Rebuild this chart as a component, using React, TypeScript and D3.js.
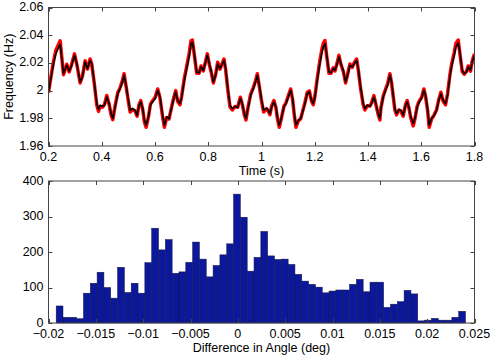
import React, { useEffect, useRef } from "react";
import * as d3 from "d3";

// top panel: measured (black) and reference (red) frequency traces
const time = [
  0.2, 0.21, 0.2188, 0.2275, 0.2438, 0.2563, 0.2688, 0.2776, 0.2851, 0.2976,
  0.3063, 0.3188, 0.3276, 0.3376, 0.3464, 0.3564, 0.3626, 0.3726, 0.3814, 0.3877,
  0.3939, 0.4027, 0.4102, 0.4189, 0.4277, 0.4352, 0.4414, 0.4502, 0.4602, 0.4689,
  0.4777, 0.4839, 0.4914, 0.5002, 0.5065, 0.5152, 0.5252, 0.5327, 0.5402, 0.5465,
  0.554, 0.5602, 0.5665, 0.5752, 0.5827, 0.5902, 0.6001, 0.6102, 0.6189, 0.6277,
  0.6352, 0.6439, 0.6527, 0.6602, 0.669, 0.6777, 0.6852, 0.694, 0.7003, 0.7103,
  0.719, 0.7278, 0.7353, 0.7403, 0.7478, 0.7566, 0.7653, 0.7728, 0.7816, 0.7903,
  0.7966, 0.8041, 0.8104, 0.8191, 0.8279, 0.8354, 0.8441, 0.8504, 0.8592, 0.8654,
  0.8729, 0.8817, 0.8904, 0.9004, 0.9105, 0.9205, 0.928, 0.9355, 0.9417, 0.9505,
  0.9593, 0.9693, 0.978, 0.9843, 0.9918, 1.0005, 1.0081, 1.0193, 1.0256, 1.0318,
  1.0381, 1.0468, 1.0544, 1.0606, 1.0669, 1.0756, 1.0844, 1.0919, 1.1006, 1.1094,
  1.1169, 1.1232, 1.1294, 1.1382, 1.1469, 1.1545, 1.1632, 1.172, 1.1795, 1.1882,
  1.1945, 1.2008, 1.2095, 1.217, 1.2258, 1.232, 1.2383, 1.2445, 1.2533, 1.2608,
  1.2696, 1.2758, 1.2846, 1.2908, 1.2983, 1.3071, 1.3159, 1.3234, 1.3321, 1.3409,
  1.3484, 1.3572, 1.3634, 1.3722, 1.3822, 1.3884, 1.3972, 1.4072, 1.4135, 1.4222,
  1.4297, 1.4385, 1.4447, 1.4485, 1.4573, 1.466, 1.4735, 1.4823, 1.4885, 1.4948,
  1.5011, 1.5073, 1.5161, 1.5236, 1.5323, 1.5411, 1.5473, 1.5549, 1.5611, 1.5699,
  1.5761, 1.5849, 1.5924, 1.6011, 1.6099, 1.6162, 1.6237, 1.6299, 1.6387, 1.6487,
  1.6575, 1.6662, 1.6737, 1.6825, 1.6912, 1.6987, 1.7075, 1.7138, 1.7238, 1.73,
  1.7388, 1.745, 1.7538, 1.7613, 1.7701, 1.7763, 1.7851, 1.7914, 1.8,
];

const freqBlack = [
  1.999, 2.0099, 2.0195, 2.0267, 2.0335, 2.0123, 2.0183, 2.0142, 2.0171, 2.0255,
  2.0195, 2.0063, 2.0099, 2.0207, 2.0159, 2.0219, 2.0195, 2.0051, 1.9906, 1.9863,
  1.9894, 1.9887, 1.9894, 1.9954, 1.9906, 1.9834, 1.9798, 1.9882, 1.9978, 2.0014,
  2.0063, 2.0111, 2.0039, 1.993, 1.9858, 1.987, 1.9858, 1.9822, 1.9894, 1.9918,
  1.987, 1.9786, 1.975, 1.981, 1.9894, 1.9918, 1.9942, 2.0002, 1.9954, 1.9834,
  1.975, 1.981, 1.9798, 1.9858, 1.993, 1.999, 1.993, 1.9906, 1.9954, 2.0075,
  2.0159, 2.0243, 2.0339, 2.0351, 2.0267, 2.0135, 2.0128, 2.0171, 2.0147, 2.0207,
  2.0255, 2.0195, 2.0147, 2.0063, 2.0111, 2.0195, 2.0159, 2.0183, 2.0219, 2.0159,
  2.0026, 1.9894, 1.987, 1.9887, 1.9877, 1.9942, 1.9906, 1.9834, 1.9798, 1.9882,
  1.9966, 2.0014, 2.0063, 2.0111, 2.0039, 1.993, 1.9858, 1.9874, 1.9858, 1.9834,
  1.9882, 1.9918, 1.9882, 1.9798, 1.975, 1.981, 1.9882, 1.9906, 1.9954, 2.0002,
  1.9942, 1.9834, 1.975, 1.9786, 1.9798, 1.9846, 1.9906, 1.9978, 1.999, 1.993,
  1.9906, 1.9954, 2.0075, 2.0171, 2.0267, 2.0315, 2.0339, 2.0267, 2.0135, 2.0128,
  2.0159, 2.0147, 2.0195, 2.0243, 2.0195, 2.0147, 2.0063, 2.0111, 2.0183, 2.0171,
  2.0195, 2.0219, 2.0159, 2.0026, 1.9906, 1.987, 1.9894, 1.9887, 1.9906, 1.9954,
  1.9906, 1.9834, 1.9798, 1.987, 1.9954, 2.0002, 2.0039, 2.0111, 2.0063, 1.9966,
  1.987, 1.9834, 1.9863, 1.9858, 1.9822, 1.9894, 1.9918, 1.987, 1.981, 1.9762,
  1.9798, 1.9882, 1.9918, 1.9942, 2.0002, 1.9966, 1.987, 1.975, 1.9798, 1.9822,
  1.9858, 1.993, 1.9978, 1.993, 1.9906, 1.9966, 2.0099, 2.0171, 2.0255, 2.0315,
  2.0344, 2.0279, 2.0147, 2.0123, 2.0135, 2.0171, 2.0147, 2.0207, 2.0255,
];

const freqRed = [
  1.9985, 2.011, 2.021, 2.029, 2.036, 2.0115, 2.019, 2.0135, 2.0178, 2.0265,
  2.019, 2.0055, 2.0105, 2.0215, 2.0155, 2.0228, 2.019, 2.004, 1.9895, 1.985,
  1.9885, 1.988, 1.99, 1.9965, 1.99, 1.9825, 1.979, 1.989, 1.9985, 2.002,
  2.0072, 2.0122, 2.003, 1.992, 1.9845, 1.9865, 1.9852, 1.9815, 1.99, 1.9928,
  1.9862, 1.9775, 1.9735, 1.9808, 1.99, 1.9925, 1.995, 2.0012, 1.9945, 1.9822,
  1.9735, 1.9805, 1.9795, 1.9862, 1.9938, 2.0, 1.9922, 1.9898, 1.9962, 2.009,
  2.0175, 2.0262, 2.036, 2.0365, 2.0255, 2.0125, 2.0125, 2.0178, 2.0142, 2.0215,
  2.0265, 2.0188, 2.0138, 2.0055, 2.0118, 2.0205, 2.0155, 2.0188, 2.0228, 2.015,
  2.0015, 1.9882, 1.986, 1.9885, 1.988, 1.9952, 1.99, 1.9825, 1.9788, 1.989,
  1.9975, 2.0022, 2.0072, 2.0122, 2.003, 1.992, 1.9845, 1.9868, 1.9852, 1.9826,
  1.989, 1.9928, 1.9875, 1.9788, 1.9735, 1.9808, 1.9888, 1.9912, 1.9962, 2.0012,
  1.9935, 1.9822, 1.9735, 1.9782, 1.9795, 1.985, 1.9914, 1.9988, 1.9998, 1.9922,
  1.9898, 1.9962, 2.009, 2.0188, 2.0288, 2.034, 2.0362, 2.0255, 2.0125, 2.0125,
  2.0165, 2.0142, 2.0205, 2.0255, 2.0188, 2.0138, 2.0055, 2.0118, 2.0192, 2.0168,
  2.0202, 2.0228, 2.015, 2.0015, 1.9894, 1.986, 1.989, 1.9888, 1.9912, 1.9964,
  1.9898, 1.9825, 1.9788, 1.9875, 1.9962, 2.001, 2.0048, 2.0122, 2.0055, 1.9955,
  1.9858, 1.9825, 1.986, 1.9852, 1.9815, 1.9902, 1.9928, 1.9862, 1.98, 1.9745,
  1.9795, 1.989, 1.9925, 1.995, 2.0012, 1.9958, 1.9858, 1.9735, 1.9795, 1.9825,
  1.9862, 1.9938, 1.9988, 1.9922, 1.9898, 1.9975, 2.0112, 2.0188, 2.0275, 2.034,
  2.0365, 2.0268, 2.0138, 2.0118, 2.014, 2.0178, 2.014, 2.0215, 2.0265,
];

const timeTicks = [0.2, 0.4, 0.6, 0.8, 1, 1.2, 1.4, 1.6, 1.8];
const freqTicks = [1.96, 1.98, 2, 2.02, 2.04, 2.06];

// bottom panel: histogram of angle differences (60 bins)
const binLow = -0.01919;
const binHigh = 0.02405;
const counts = [
  48, 16, 16, 12, 84, 112, 143, 100, 70, 157,
  86, 112, 84, 170, 267, 206, 235, 140, 144, 171,
  228, 180, 130, 162, 192, 223, 363, 298, 146, 185,
  258, 189, 179, 180, 165, 137, 118, 109, 101, 85,
  90, 93, 93, 109, 123, 88, 115, 115, 44, 53,
  60, 92, 82, 6, 8, 13, 8, 8, 16, 33,
];
const angleTicks = [-0.02, -0.015, -0.01, -0.005, 0, 0.005, 0.01, 0.015, 0.02, 0.025];
const angleLabels = ["\u22120.02", "\u22120.015", "\u22120.01", "\u22120.005", "0", "0.005", "0.01", "0.015", "0.02", "0.025"];
const countTicks = [0, 100, 200, 300, 400];

const W = 491;
const H = 360;
const FONT = "'Liberation Sans', Arial, sans-serif";
const FS = 12.5;
const AXIS_COLOR = "#444";

// draws the box with inward ticks on all four sides
function drawFrame(g, x, y, xTicks, yTicks, xFmt, yFmt, box) {
  const { l, r, t, b } = box;
  g.append("rect")
    .attr("x", l).attr("y", t)
    .attr("width", r - l).attr("height", b - t)
    .attr("fill", "none")
    .attr("stroke", AXIS_COLOR)
    .attr("stroke-width", 1);

  const tick = 4;
  xTicks.forEach((v) => {
    const px = Math.round(x(v)) + 0.5;
    g.append("line").attr("x1", px).attr("x2", px).attr("y1", b).attr("y2", b - tick).attr("stroke", AXIS_COLOR);
    g.append("line").attr("x1", px).attr("x2", px).attr("y1", t).attr("y2", t + tick).attr("stroke", AXIS_COLOR);
  });
  yTicks.forEach((v) => {
    const py = Math.round(y(v)) + 0.5;
    g.append("line").attr("x1", l).attr("x2", l + tick).attr("y1", py).attr("y2", py).attr("stroke", AXIS_COLOR);
    g.append("line").attr("x1", r).attr("x2", r - tick).attr("y1", py).attr("y2", py).attr("stroke", AXIS_COLOR);
  });

  g.selectAll(".xlab")
    .data(xTicks)
    .enter()
    .append("text")
    .attr("x", (d) => x(d))
    .attr("y", b + 15)
    .attr("text-anchor", "middle")
    .text((d, i) => xFmt(d, i));

  g.selectAll(".ylab")
    .data(yTicks)
    .enter()
    .append("text")
    .attr("x", l - 5)
    .attr("y", (d) => y(d))
    .attr("dy", "0.28em")
    .attr("text-anchor", "end")
    .text((d) => yFmt(d));
}

export default function App() {
  const ref = useRef<SVGSVGElement>(null);

  useEffect(() => {
    const svg = d3.select(ref.current);
    svg.selectAll("*").remove();
    const root = svg.append("g").attr("font-family", FONT).attr("font-size", FS).attr("fill", "#000");

    // ---- top panel
    const topBox = { l: 48.5, r: 474.5, t: 7.5, b: 146 };
    const xT = d3.scaleLinear().domain([0.2, 1.8]).range([topBox.l, topBox.r]);
    const yT = d3.scaleLinear().domain([1.96, 2.06]).range([topBox.b, topBox.t]);

    svg.append("defs").append("clipPath").attr("id", "topClip")
      .append("rect")
      .attr("x", topBox.l).attr("y", topBox.t)
      .attr("width", topBox.r - topBox.l).attr("height", topBox.b - topBox.t);

    const line = d3.line<number>()
      .x((d, i) => xT(time[i]))
      .y((d) => yT(d));

    const traces = root.append("g").attr("clip-path", "url(#topClip)");
    traces.append("path")
      .attr("d", line(freqRed))
      .attr("fill", "none")
      .attr("stroke", "#ff0000")
      .attr("stroke-width", 3.5)
      .attr("stroke-linejoin", "round");
    traces.append("path")
      .attr("d", line(freqBlack))
      .attr("fill", "none")
      .attr("stroke", "#000")
      .attr("stroke-width", 1.6)
      .attr("stroke-linejoin", "round");

    drawFrame(root.append("g"), xT, yT, timeTicks, freqTicks,
      (d) => String(+d.toFixed(2)),
      (d) => String(+d.toFixed(2)),
      topBox);

    root.append("text")
      .attr("x", (topBox.l + topBox.r) / 2)
      .attr("y", 175)
      .attr("text-anchor", "middle")
      .text("Time (s)");

    root.append("text")
      .attr("transform", `translate(13, ${(topBox.t + topBox.b) / 2}) rotate(-90)`)
      .attr("text-anchor", "middle")
      .text("Frequency (Hz)");

    // ---- bottom panel
    const botBox = { l: 48.5, r: 474.5, t: 181, b: 323 };
    const xB = d3.scaleLinear().domain([-0.02, 0.025]).range([botBox.l, botBox.r]);
    const yB = d3.scaleLinear().domain([0, 400]).range([botBox.b, botBox.t]);
    const binW = (binHigh - binLow) / counts.length;

    root.append("g")
      .selectAll("rect")
      .data(counts)
      .enter()
      .append("rect")
      .attr("x", (d, i) => xB(binLow + i * binW))
      .attr("y", (d) => yB(d))
      .attr("width", xB(binLow + binW) - xB(binLow))
      .attr("height", (d) => yB(0) - yB(d))
      .attr("fill", "#0c189c")
      .attr("stroke", "#151540")
      .attr("stroke-width", 0.5);

    drawFrame(root.append("g"), xB, yB, angleTicks, countTicks,
      (d, i) => angleLabels[i],
      (d) => String(d),
      botBox);

    root.append("text")
      .attr("x", (botBox.l + botBox.r) / 2)
      .attr("y", 351.5)
      .attr("text-anchor", "middle")
      .text("Difference in Angle (deg)");
  }, []);

  return (
    <svg
      ref={ref}
      width={W}
      height={H}
      style={{ position: "absolute", left: 0, top: 0, background: "#fff" }}
    />
  );
}
